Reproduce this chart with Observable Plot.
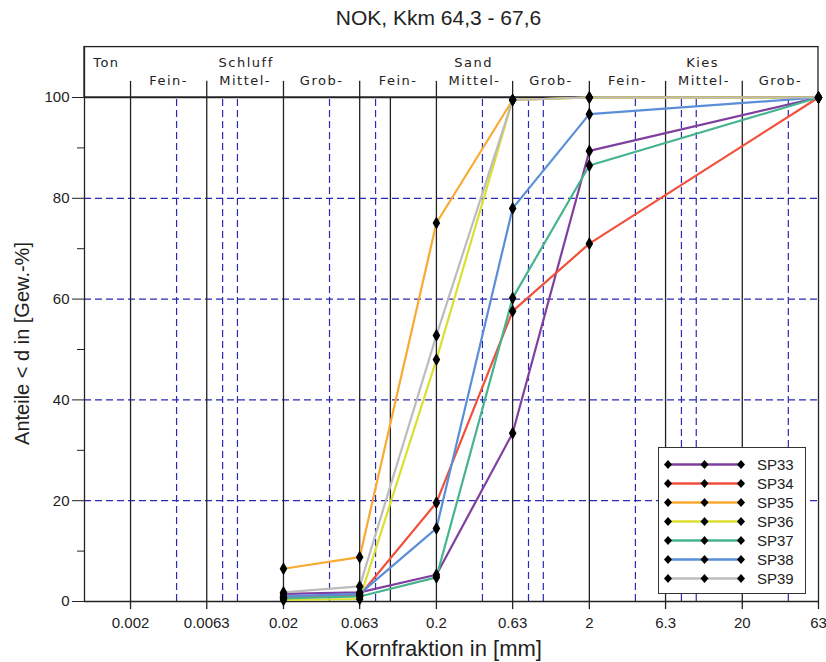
<!DOCTYPE html>
<html>
<head>
<meta charset="utf-8">
<script src="https://cdn.jsdelivr.net/npm/d3@7"></script>
<script src="https://cdn.jsdelivr.net/npm/@observablehq/plot@0.6"></script>
<style>
  html, body { margin: 0; padding: 0; background: #fff; }
  #wrap { position: relative; width: 826px; height: 662px; overflow: hidden; }
  #legend {
    position: absolute; left: 658px; top: 447px; width: 146px; height: 145px;
    border: 1px solid #333; background: #fff; box-sizing: content-box;
    font-family: "Liberation Sans", Arial, sans-serif; font-size: 15px; color: #222;
  }
  .row { position: absolute; left: 0; height: 19px; display: flex; align-items: center; }
  .row svg { display: block; }
  .row span { margin-left: 12px; }
</style>
</head>
<body>
<div id="wrap"><div id="legend"></div></div>
<script>
// Sieve sizes (mm) and cumulative passing (%) per sample
const sieve = [0.02, 0.063, 0.2, 0.63, 2, 63];
const SP33 = [1.5, 1.8, 5.3, 33.4, 89.4, 100];
const SP34 = [0.8, 1.2, 19.6, 57.6, 71.0, 100];
const SP35 = [6.5, 8.8, 75.1, 99.5, 100, 100];
const SP36 = [0.3, 0.5, 48.0, 99.5, 100, 100];
const SP37 = [0.6, 1.0, 4.8, 60.2, 86.5, 100];
const SP38 = [1.0, 1.5, 14.5, 78.0, 96.7, 100];
const SP39 = [1.8, 3.0, 52.8, 99.5, 100, 100];

const sampleNames = ["SP33", "SP34", "SP35", "SP36", "SP37", "SP38", "SP39"];
const sampleValues = [SP33, SP34, SP35, SP36, SP37, SP38, SP39];
const sampleColors = ["#7f3f9f", "#f0503c", "#f8aa32", "#dcde30", "#46b48e", "#5a8ed8", "#bcbcbc"];

// Grid positions and tick labels on the grain-size axis
const xMin = 0.001, xMax = 63;
const solidGrid = [0.002, 0.0063, 0.02, 0.063, 0.1, 0.2, 0.63, 2, 6.3, 20, 63];
const dashedGrid = [0.004, 0.008, 0.01, 0.04, 0.08, 0.4, 0.8, 1, 4, 8, 10, 40];
const xTicks = [0.002, 0.0063, 0.02, 0.063, 0.2, 0.63, 2, 6.3, 20, 63];
const xTickLabels = ["0.002", "0.0063", "0.02", "0.063", "0.2", "0.63", "2", "6.3", "20", "63"];
const yTicks = [0, 20, 40, 60, 80, 100];
const yMinorTicks = [10, 30, 50, 70, 90];
const yGrid = [20, 40, 60, 80];

// Soil classification header (DIN 4022)
const classBounds = [0.002, 0.0063, 0.02, 0.063, 0.2, 0.63, 2, 6.3, 20];
const subClasses = [
  {lo: 0.002, hi: 0.0063, label: "Fein-"},
  {lo: 0.0063, hi: 0.02, label: "Mittel-"},
  {lo: 0.02, hi: 0.063, label: "Grob-"},
  {lo: 0.063, hi: 0.2, label: "Fein-"},
  {lo: 0.2, hi: 0.63, label: "Mittel-"},
  {lo: 0.63, hi: 2, label: "Grob-"},
  {lo: 2, hi: 6.3, label: "Fein-"},
  {lo: 6.3, hi: 20, label: "Mittel-"},
  {lo: 20, hi: 63, label: "Grob-"}
];
const mainClasses = [
  {x: 0.00139, label: "Ton"},
  {x: 0.0114, label: "Schluff"},
  {x: 0.35, label: "Sand"},
  {x: 11.0, label: "Kies"}
];

const rows = [];
sampleNames.forEach((name, i) => {
  sieve.forEach((d, j) => rows.push({sample: name, d, p: sampleValues[i][j]}));
});

const axisFont = "Liberation Sans, Arial, sans-serif";
const headFont = "DejaVu Sans, Verdana, sans-serif";
const gridBlue = "#2a2ab4";
const ink = "#222";

const chart = Plot.plot({
  width: 826,
  height: 662,
  marginLeft: 84,
  marginRight: 8,
  marginTop: 97,
  marginBottom: 61,
  style: {fontFamily: axisFont, background: "#fff", color: ink, overflow: "visible"},
  x: {type: "log", domain: [xMin, xMax], axis: null},
  y: {domain: [0, 100]},
  color: {domain: sampleNames, range: sampleColors},
  marks: [
    // grid
    Plot.ruleY(yGrid, {x1: xMin, x2: xMax, stroke: gridBlue, strokeWidth: 1.2, strokeDasharray: "7,4"}),
    Plot.ruleX(dashedGrid, {y1: 0, y2: 100, stroke: gridBlue, strokeWidth: 1.2, strokeDasharray: "7,4"}),
    Plot.ruleX(solidGrid, {y1: 0, y2: 100, stroke: ink, strokeWidth: 1.3}),
    // header frame
    Plot.rect([0], {x1: xMin, x2: xMax, y1: 100, y2: 110, fill: "none", stroke: ink, strokeWidth: 1.3}),
    Plot.ruleX(classBounds, {y1: 100, y2: 103.2, stroke: ink, strokeWidth: 1.3}),
    Plot.text(subClasses, {
      x: d => Math.sqrt(d.lo * d.hi), y: 103.4, text: "label",
      fontFamily: headFont, fontSize: 13, fill: ink
    }),
    Plot.text(mainClasses, {
      x: "x", y: 106.9, text: "label",
      fontFamily: headFont, fontSize: 13, fill: ink
    }),
    // axes
    Plot.ruleX([xMin], {y1: 0, y2: 110, stroke: ink, strokeWidth: 1.3}),
    Plot.ruleY([0], {x1: xMin, x2: xMax, stroke: ink, strokeWidth: 1.3}),
    Plot.ruleY([100], {x1: xMin, x2: xMax, stroke: ink, strokeWidth: 1.3}),
    Plot.axisY({ticks: yTicks, tickSize: 12, tickPadding: 3, fontSize: 15, label: null, stroke: ink}),
    Plot.axisY({ticks: yMinorTicks, tickSize: 7, tickFormat: () => "", label: null, stroke: ink}),
    Plot.ruleX(xTicks, {y1: 0, y2: -1.6, stroke: ink, strokeWidth: 1.3}),
    Plot.text(xTicks, {
      x: d => d, y: 0, dy: 22, text: (d, i) => xTickLabels[i],
      fontSize: 15, fill: ink, lineAnchor: "middle"
    }),
    // curves
    Plot.line(rows, {x: "d", y: "p", z: "sample", stroke: "sample", strokeWidth: 2.2}),
    Plot.dot(rows, {x: "d", y: "p", symbol: "diamond", r: 4, fill: "#000", stroke: "none"}),
    // titles
    Plot.text(["NOK, Kkm 64,3 - 67,6"], {
      frameAnchor: "top-left", dx: 354, dy: -79, textAnchor: "middle", lineAnchor: "middle",
      fontSize: 21, fill: ink
    }),
    Plot.text(["Anteile < d in [Gew.-%]"], {
      frameAnchor: "left", dx: -62, dy: -6, rotate: -90, textAnchor: "middle", lineAnchor: "middle",
      fontSize: 20, fill: ink
    }),
    Plot.text(["Kornfraktion in [mm]"], {
      frameAnchor: "bottom", dx: -8, dy: 47, textAnchor: "middle", lineAnchor: "middle",
      fontSize: 22, fill: ink
    })
  ]
});

// spaced lettering for the classification header
d3.select(chart).selectAll("g[font-family^='DejaVu'] text").style("letter-spacing", "1.5px");

const wrap = document.getElementById("wrap");
wrap.insertBefore(chart, wrap.firstChild);

// legend
const legend = document.getElementById("legend");
sampleNames.forEach((name, i) => {
  const row = document.createElement("div");
  row.className = "row";
  row.style.top = (7 + i * 19) + "px";
  const svg = d3.create("svg").attr("width", 86).attr("height", 19);
  svg.append("line").attr("x1", 9).attr("x2", 82).attr("y1", 9.5).attr("y2", 9.5)
    .attr("stroke", sampleColors[i]).attr("stroke-width", 2.5);
  [9, 45.5, 82].forEach(cx => {
    svg.append("path").attr("d", `M${cx},${9.5 - 4.5}L${cx + 4},9.5L${cx},${9.5 + 4.5}L${cx - 4},9.5Z`).attr("fill", "#000");
  });
  row.appendChild(svg.node());
  const label = document.createElement("span");
  label.textContent = name;
  row.appendChild(label);
  legend.appendChild(row);
});
</script>
</body>
</html>
